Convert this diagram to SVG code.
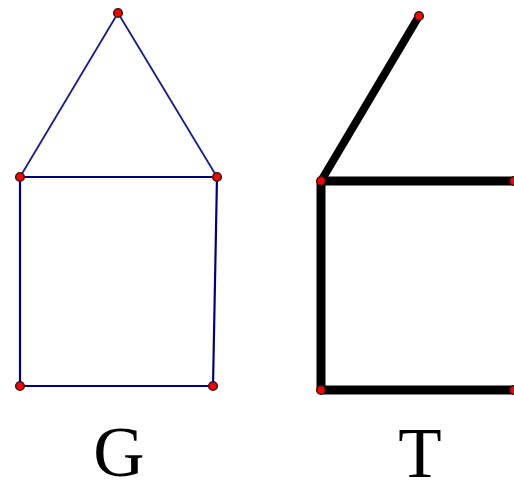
<svg xmlns="http://www.w3.org/2000/svg" width="514" height="482" viewBox="0 0 514 482">
<style>
.g{stroke:#000080;stroke-width:2.2;fill:none;stroke-linecap:round}
.gd{stroke:#1a1a90;stroke-width:1.8;fill:none}
.t{stroke:#000;stroke-width:9;fill:none}
.td{stroke:#000;stroke-width:8;fill:none}
.n{fill:#ff0000;stroke:#3a1a1a;stroke-width:1.6}
.lbl{font-family:"Liberation Serif",serif;font-size:71px;fill:#000;text-anchor:middle}
</style>
<rect width="514" height="482" fill="#fff"/>
<g id="edges">
<line class="gd" x1="118" y1="13" x2="20" y2="177"/>
<line class="gd" x1="118" y1="13" x2="217" y2="177"/>
<line class="g" x1="20" y1="177" x2="217" y2="177"/>
<line class="g" x1="20" y1="177" x2="20" y2="386"/>
<line class="g" x1="217" y1="177" x2="213" y2="386"/>
<line class="g" x1="20" y1="386" x2="213" y2="386"/>
<line class="td" x1="419" y1="16" x2="321" y2="181"/>
<line class="t" x1="321" y1="181" x2="514" y2="181"/>
<line class="t" x1="321" y1="181" x2="321" y2="390"/>
<line class="t" x1="321" y1="390" x2="514" y2="390"/>
</g>
<g id="g-nodes">
<circle class="n" cx="118" cy="13" r="4.3"/>
<circle class="n" cx="20" cy="177" r="4.3"/>
<circle class="n" cx="217" cy="177" r="4.3"/>
<circle class="n" cx="20" cy="386" r="4.3"/>
<circle class="n" cx="213" cy="386" r="4.3"/>
</g>
<g id="t-nodes">
<circle class="n" cx="419" cy="16" r="4.3"/>
<circle class="n" cx="321" cy="181" r="4.3"/>
<circle class="n" cx="514" cy="181" r="4.3"/>
<circle class="n" cx="321" cy="390" r="4.3"/>
<circle class="n" cx="514" cy="390" r="4.3"/>
</g>
<text class="lbl" x="119" y="476">G</text>
<text class="lbl" x="420" y="477">T</text>
</svg>
